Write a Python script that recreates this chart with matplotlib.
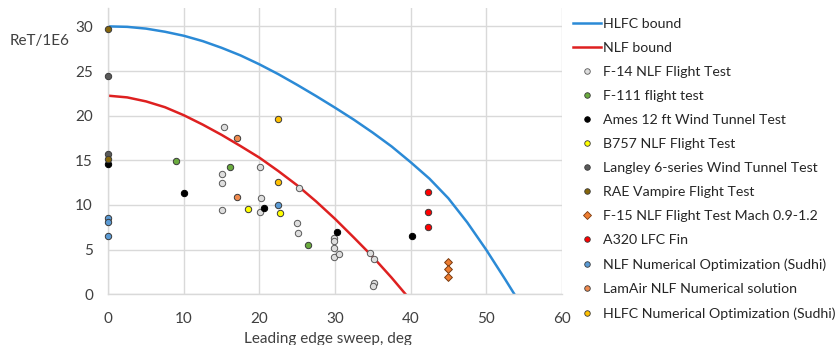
import matplotlib
matplotlib.use("Agg")
import matplotlib.pyplot as plt
from matplotlib.lines import Line2D

plt.rcParams['font.family'] = ['Lato', 'DejaVu Sans']

# Transition-Reynolds bounds (sweep deg, ReT/1E6)
hlfc_sweep = [0, 2.5, 5, 7.5, 10, 12.5, 15, 17.5, 20, 22.5, 25, 27.5, 30, 32.5, 35,
              37.5, 40, 42.5, 45, 47.5, 50, 52.5, 53.75]
hlfc_re = [30.0, 29.95, 29.75, 29.4, 28.95, 28.35, 27.6, 26.75, 25.75, 24.65, 23.45,
           22.2, 20.9, 19.55, 18.1, 16.55, 14.8, 12.95, 10.75, 8.05, 5.0, 1.7, 0.0]
nlf_sweep = [0, 2.5, 5, 7.5, 10, 12.5, 15, 17.5, 20, 22.5, 25, 27.5, 30, 32.5, 35,
             37.5, 39.35]
nlf_re = [22.24, 22.05, 21.6, 20.95, 20.05, 19.0, 17.85, 16.6, 15.3, 13.8, 12.2,
          10.4, 8.45, 6.35, 4.2, 1.85, 0.0]

# Experimental / numerical data sets
f14_sweep = [15.3, 15.1, 15.0, 15.1, 20.1, 20.2, 20.1, 25.2, 25.0, 25.1,
             29.9, 29.9, 29.9, 29.9, 30.5, 34.6, 35.2, 35.1, 35.0]
f14_re = [18.7, 13.5, 12.5, 9.4, 14.2, 10.75, 9.2, 11.87, 7.95, 6.83,
          6.27, 6.0, 5.15, 4.14, 4.48, 4.59, 3.95, 1.3, 0.93]

f111_sweep = [8.9, 16.1, 26.4]
f111_re = [14.9, 14.3, 5.5]

ames_sweep = [0.0, 10.0, 20.65, 30.2, 40.2]
ames_re = [14.56, 11.3, 9.63, 6.94, 6.5]

b757_sweep = [18.5, 22.7]
b757_re = [9.6, 9.14]

langley_sweep = [0.0, 0.0]
langley_re = [24.45, 15.7]

rae_sweep = [0.0, 0.0]
rae_re = [29.7, 15.1]

f15_sweep = [45.0, 45.0, 45.0]
f15_re = [3.58, 2.87, 1.97]

a320_sweep = [42.3, 42.3, 42.3]
a320_re = [11.4, 9.2, 7.54]

nlf_num_sweep = [0.0, 0.0, 0.0, 22.5]
nlf_num_re = [8.58, 8.1, 6.53, 10.0]

lamair_sweep = [17.0, 17.0]
lamair_re = [17.5, 10.9]

hlfc_num_sweep = [22.5, 22.5]
hlfc_num_re = [19.6, 12.6]

x_ticks = [0, 10, 20, 30, 40, 50, 60]
y_ticks = [0, 5, 10, 15, 20, 25, 30]

W, H = 837, 345
fig = plt.figure(figsize=(W / 100, H / 100), dpi=100)
ax = fig.add_axes([108.3 / W, 1 - 294.3 / H, (561.7 - 108.3) / W, (294.3 - 8) / H])

grid_c = '#d9d9d9'
ax.set_xlim(0, 60)
ax.set_ylim(0, 32.06)
ax.set_xticks(x_ticks)
ax.set_yticks(y_ticks)
ax.grid(True, color=grid_c, linewidth=1.0, zorder=0)
ax.set_axisbelow(True)
for s in ['top', 'right']:
    ax.spines[s].set_visible(False)
for s in ['left', 'bottom']:
    ax.spines[s].set_color(grid_c)
    ax.spines[s].set_linewidth(1.0)
ax.tick_params(axis='both', length=0, labelsize=11, colors='#404040')
ax.tick_params(axis='x', pad=13)
ax.tick_params(axis='y', pad=11)

ax.plot(hlfc_sweep, hlfc_re, color='#2b8ad6', lw=1.8, zorder=2)
ax.plot(nlf_sweep, nlf_re, color='#de2020', lw=1.8, zorder=2)

edge = '#3a3a3a'
ms = 21
series = [
    (f14_sweep, f14_re, '#dedede', 'o', 'F-14 NLF Flight Test', '#595959'),
    (f111_sweep, f111_re, '#6aab3e', 'o', 'F-111 flight test', edge),
    (ames_sweep, ames_re, '#000000', 'o', 'Ames 12 ft Wind Tunnel Test', '#000000'),
    (b757_sweep, b757_re, '#ffff00', 'o', 'B757 NLF Flight Test', edge),
    (langley_sweep, langley_re, '#5a5a5a', 'o', 'Langley 6-series Wind Tunnel Test', edge),
    (rae_sweep, rae_re, '#85650a', 'o', 'RAE Vampire Flight Test', edge),
    (f15_sweep, f15_re, '#ed7d31', 'D', 'F-15 NLF Flight Test Mach 0.9-1.2', '#7a3a10'),
    (a320_sweep, a320_re, '#ff0000', 'o', 'A320 LFC Fin', edge),
    (nlf_num_sweep, nlf_num_re, '#5b9bd5', 'o', 'NLF Numerical Optimization (Sudhi)', edge),
    (lamair_sweep, lamair_re, '#f08a4e', 'o', 'LamAir NLF Numerical solution', edge),
    (hlfc_num_sweep, hlfc_num_re, '#ffc000', 'o', 'HLFC Numerical Optimization (Sudhi)', edge),
]
handles = [Line2D([], [], color='#2b8ad6', lw=1.8, label='HLFC bound'),
           Line2D([], [], color='#de2020', lw=1.8, label='NLF bound')]
for xs, ys, fc, mk, lab, ec in series:
    size = ms * 0.75 if mk == 'D' else ms
    ax.scatter(xs, ys, s=size, c=fc, marker=mk, edgecolors=ec, linewidths=0.7,
               zorder=3, clip_on=False)
    handles.append(Line2D([], [], linestyle='none', marker=mk, markersize=4 if mk == 'o' else 3.6,
                          markerfacecolor=fc, markeredgecolor=ec, markeredgewidth=0.6, label=lab))

fig.legend(handles=handles, loc='upper left', bbox_to_anchor=(573 / W, 1 - 18 / H),
           frameon=False, fontsize=10.2, handlelength=2.0, handletextpad=0.15,
           labelspacing=0.85, borderaxespad=0, borderpad=0, labelcolor='#262626')

fig.text(40 / W, 1 - 45 / H, 'ReT/1E6', ha='center', va='baseline', fontsize=11, color='#404040')
fig.text(327.5 / W, 1 - 342.5 / H, 'Leading edge sweep, deg', ha='center', va='baseline',
         fontsize=11, color='#404040')

fig.savefig('out.png', dpi=100)
